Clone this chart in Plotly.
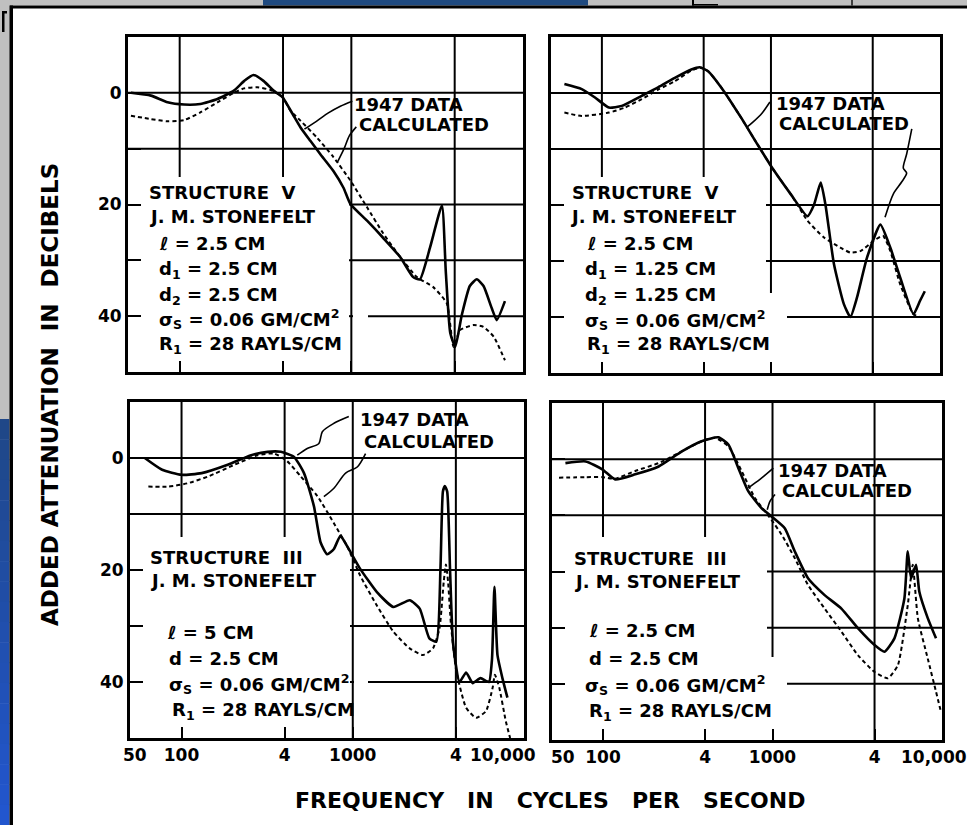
import math
import plotly.graph_objects as go

W, H = 967, 825
FONT = "DejaVu Sans"

# ---------------- axis ticks and grid ----------------
X_TICKS = [50, 100, 400, 1000, 4000, 10000]
X_TICK_LABELS = ["50", "100", "4", "1000", "4", "10,000"]
Y_TICKS = [0, 10, 20, 30, 40]
Y_TICK_LABELS = ["0", "", "20", "", "40"]
GRID_F = [100, 400, 1000, 4000]
GRID_DB = [0, 10, 20, 30, 40]
F_MIN, F_MAX = 50, 10000
DB_TOP, DB_BOTTOM = -10, 50

# ---------------- Structure V, d1 = d2 = 2.5 cm ----------------
V25_DATA_F = [52, 68, 85, 106, 132, 166, 207, 237, 269, 309, 352, 398, 455, 506, 577, 660, 786,
              900, 987, 1235, 1535, 1925, 2290, 2510, 2880, 3370, 3550, 3770, 4030, 4400, 4900,
              5380, 5890, 6580, 7030, 7850]
V25_DATA_DB = [0, 0.5, 1.7, 2.1, 2.0, 1.1, -0.4, -2.1, -3.2, -2.1, -0.4, 0.8, 3.8, 6.2, 8.6, 11, 14,
               17, 19.9, 22.9, 26, 29.4, 33, 33.4, 27.6, 20.2, 32, 43, 45.5, 39.8, 34.6,
               33.4, 34.6, 38.6, 40.7, 37.3]
V25_CALC_F = [52, 68, 85, 106, 132, 166, 207, 237, 283, 339, 398, 442, 506, 630, 786, 987, 1235,
              1535, 1925, 2410, 3000, 3600, 3940, 4300, 5130, 5880, 6760, 7850]
V25_CALC_DB = [4.1, 4.7, 5.1, 4.9, 3.5, 1.7, 0, -0.8, -1, -0.5, 0.8, 3.2, 5, 8, 11.5, 15.7, 20.5,
               25.2, 29.4, 33, 34.8, 37.7, 45.5, 42.5, 41.6, 41.9, 43.7, 47.9]

# ---------------- Structure V, d1 = d2 = 1.25 cm ----------------
V125_DATA_F = [60, 76, 91, 110, 131, 172, 215, 270, 338, 379, 425, 508, 666, 833, 1045, 1312, 1645,
               1800, 1970, 2100, 2360, 2700, 2950, 3230, 3700, 4440, 5080, 5820, 6970, 7620, 8130]
V125_DATA_DB = [-1.6, -0.7, 0.8, 2.6, 2.3, 0.5, -1, -2.7, -4.2, -4.6, -3.9, -1, 4.4, 9.2, 13.9, 18.1,
                22, 19.9, 16, 19.9, 30.6, 37.7, 40, 36.5, 29.4, 23.5, 27.6, 33, 39.5, 37.1, 35.4]
V125_CALC_F = [60, 76, 110, 137, 172, 215, 270, 338, 387, 425, 508, 666, 833, 1045, 1312, 1645,
               2060, 2570, 2950, 3400, 4050, 4600, 5080, 5820, 6970, 7620]
V125_CALC_DB = [3.5, 4.1, 3.5, 2.6, 1.1, -0.6, -2.1, -4, -4.5, -3.9, -1, 4.4, 9.2, 13.9, 18.1, 22.8,
                25.8, 27.6, 28.5, 28.2, 26.4, 25.5, 28.2, 34.2, 39.5, 40]

# ---------------- Structure III, l = 5 cm ----------------
III5_DATA_F = [61, 77, 100, 131, 186, 255, 318, 380, 454, 519, 593, 649, 709, 774, 847, 925, 1105,
               1380, 1725, 2150, 2460, 2800, 3080, 3250, 3360, 3450, 3560, 3700, 3850, 4200, 4590,
               5020, 5570, 6240, 6500, 6720, 7000, 7480, 8000]
III5_DATA_DB = [0, 2.1, 3, 2.7, 1.2, -0.5, -1.1, -1.1, -0.2, 2.7, 8.6, 15.1, 17.2, 16.3, 13.9, 15.7,
                19.8, 23.9, 26.6, 25.4, 26.9, 32.2, 32.8, 20, 6, 5, 6, 20, 33, 40, 38.3,
                40.2, 39.3, 40, 36, 23, 35.2, 39.3, 42.8]
III5_CALC_F = [64, 84, 109, 143, 204, 278, 348, 415, 497, 621, 774, 925, 1105, 1380, 1725, 2150,
               2570, 2940, 3210, 3400, 3500, 3600, 3750, 4020, 4590, 5250, 6000, 6560, 6760, 7170,
               7830, 8300]
III5_CALC_DB = [5.1, 5.1, 4.5, 3.3, 1.2, -0.5, -0.8, 0.6, 3.3, 6.8, 11.6, 15.7, 21, 26.3, 31, 34,
                35.2, 34, 30.4, 22, 19, 22, 30, 38, 44.6, 46.4, 45.2, 41, 38.7, 41, 47, 50]

# ---------------- Structure III, l = 2.5 cm ----------------
III25_DATA_F = [60, 79, 99, 118, 155, 213, 292, 382, 479, 549, 629, 719, 861, 986, 1181, 1352,
                1620, 2030, 2550, 3190, 4000, 4580, 5240, 6000, 6280, 6570, 7030, 7350, 8240, 9220]
III25_DATA_DB = [0.7, 0.4, 1.8, 3.6, 2.7, 1.3, -1.4, -3.2, -3.9, -2.6, 1.6, 5.7, 8.7, 10.2, 12.3,
                 16.4, 21.2, 24.2, 26.6, 30.1, 33.1, 34.3, 31.9, 24.8, 16.4, 21.2, 18.8, 23.6,
                 28.3, 31.9]
III25_CALC_F = [55, 79, 99, 118, 155, 213, 292, 382, 458, 549, 657, 787, 986, 1130, 1352, 1620,
                2030, 2550, 3190, 4000, 4790, 5490, 6280, 6720, 7200, 8240, 9220, 9860]
III25_CALC_DB = [3.3, 3.2, 3.2, 3.5, 2.1, 0.7, -1.4, -3.2, -3.8, -2.3, 2.1, 6.9, 10.8, 13.4, 17.6,
                 22.4, 26.6, 30.7, 34.9, 37.9, 39, 36.7, 26, 18.8, 28.3, 35.5, 41.4, 45]

# ---------------- leader lines from the curve labels ----------------
V25_LEAD_DATA = ([1014, 863, 735, 626, 533], [1.5, 2.4, 3.6, 5.1, 6.5])
V25_LEAD_CALC = ([1069, 973, 910, 830], [6.1, 7.7, 9.9, 12.4])
V125_LEAD_DATA = ([986, 885, 782, 721], [1.6, 3.6, 5.2, 6.1])
V125_LEAD_CALC = ([6810, 6350, 6065, 6350, 5930, 5300, 4730], [6.4, 10.9, 13.4, 14.3, 15.9, 18, 22.2])
III5_LEAD_DATA = ([948, 776, 664, 634, 542, 474], [-7.4, -6.2, -4.7, -2.6, -1.7, -0.5])
III5_LEAD_CALC = ([1188, 1062, 908, 776, 678], [-0.8, 1.6, 2.7, 5.4, 6.9])
III25_LEAD_DATA = ([1011, 843, 720], [1.6, 3.6, 5.1])
III25_LEAD_CALC = ([1035, 966, 931], [6.3, 7.5, 9])

# ---------------- parameter captions ----------------
V25_TEXT = ["STRUCTURE\u00a0\u00a0V", "J. M. STONEFELT", "\u2113 = 2.5 CM", "d<sub>1</sub> = 2.5 CM",
            "d<sub>2</sub> = 2.5 CM", "\u03c3<sub>S</sub> = 0.06 GM/CM<sup>2</sup>",
            "R<sub>1</sub> = 28 RAYLS/CM"]
V125_TEXT = ["STRUCTURE\u00a0\u00a0V", "J. M. STONEFELT", "\u2113 = 2.5 CM", "d<sub>1</sub> = 1.25 CM",
             "d<sub>2</sub> = 1.25 CM", "\u03c3<sub>S</sub> = 0.06 GM/CM<sup>2</sup>",
             "R<sub>1</sub> = 28 RAYLS/CM"]
III5_TEXT = ["STRUCTURE\u00a0\u00a0III", "J. M. STONEFELT", "\u2113 = 5 CM", "d = 2.5 CM",
             "\u03c3<sub>S</sub> = 0.06 GM/CM<sup>2</sup>", "R<sub>1</sub> = 28 RAYLS/CM"]
III25_TEXT = ["STRUCTURE\u00a0\u00a0III", "J. M. STONEFELT", "\u2113 = 2.5 CM", "d = 2.5 CM",
              "\u03c3<sub>S</sub> = 0.06 GM/CM<sup>2</sup>", "R<sub>1</sub> = 28 RAYLS/CM"]


def px(x):
    return x / W


def py(y):
    return 1 - y / H


# panel layout in pixels: left, right, top, bottom; "gaps" are the areas
# behind the caption block where the grid is left out; "edge_labels" are the
# centres of the end-of-axis frequency labels, which are lettered inside the frame
panels = [
    dict(box=(128, 523, 37, 372), data=(V25_DATA_F, V25_DATA_DB), calc=(V25_CALC_F, V25_CALC_DB),
         leads=[V25_LEAD_DATA, V25_LEAD_CALC], text=V25_TEXT,
         text_pos=[(147, 193), (147, 216), (157, 243), (157, 270), (157, 296), (157, 319), (157, 345)],
         label_pos=[(352, 104), (357, 125)], xlabels=False, ylabels=True,
         gaps=[(0, 349, 177, 380), (353, 368, 300, 330)], edge_labels=None),
    dict(box=(551, 940, 37, 373), data=(V125_DATA_F, V125_DATA_DB), calc=(V125_CALC_F, V125_CALC_DB),
         leads=[V125_LEAD_DATA, V125_LEAD_CALC], text=V125_TEXT,
         text_pos=[(570, 193), (568, 216), (585, 243), (583, 270), (583, 296), (583, 320), (585, 345)],
         label_pos=[(774, 103), (777, 124)], xlabels=False, ylabels=False,
         gaps=[(540, 766, 177, 380), (540, 787, 293, 380)], edge_labels=None),
    dict(box=(130, 524, 402, 738), data=(III5_DATA_F, III5_DATA_DB), calc=(III5_CALC_F, III5_CALC_DB),
         leads=[III5_LEAD_DATA, III5_LEAD_CALC], text=III5_TEXT,
         text_pos=[(148, 557), (148, 580), (165, 632), (167, 658), (167, 684), (170, 711)],
         label_pos=[(358, 420), (362, 441)], xlabels=True, ylabels=True,
         gaps=[(120, 350, 537, 745), (354, 368, 670, 695)], edge_labels=(135, 503)),
    dict(box=(552, 942, 403, 740), data=(III25_DATA_F, III25_DATA_DB), calc=(III25_CALC_F, III25_CALC_DB),
         leads=[III25_LEAD_DATA, III25_LEAD_CALC], text=III25_TEXT,
         text_pos=[(572, 558), (572, 581), (587, 630), (587, 658), (583, 685), (587, 712)],
         label_pos=[(776, 470), (780, 491)], xlabels=True, ylabels=False,
         gaps=[(540, 767, 537, 745), (540, 787, 657, 745)], edge_labels=(563, 934)),
]


def subtract(intervals, cut):
    out = []
    c0, c1 = cut
    for a, b in intervals:
        if c1 <= a or c0 >= b:
            out.append((a, b))
            continue
        if c0 > a:
            out.append((a, c0))
        if c1 < b:
            out.append((c1, b))
    return out


def grid_paths(box, gaps):
    left, right, top, bottom = box
    lmin, lmax = math.log10(F_MIN), math.log10(F_MAX)

    def fx(f):
        return left + (math.log10(f) - lmin) / (lmax - lmin) * (right - left)

    def xf(X):
        return 10 ** (lmin + (X - left) / (right - left) * (lmax - lmin))

    def dy(d):
        return top + (d - DB_TOP) / (DB_BOTTOM - DB_TOP) * (bottom - top)

    def yd(Y):
        return DB_TOP + (Y - top) / (bottom - top) * (DB_BOTTOM - DB_TOP)

    gx, gy = [], []
    for f in GRID_F:
        X = fx(f)
        segs = [(top, bottom)]
        for gx0, gx1, gy0, gy1 in gaps:
            if gx0 <= X <= gx1:
                segs = subtract(segs, (gy0, gy1))
        for a, b in segs:
            gx += [f, f, None]
            gy += [yd(a), yd(b), None]
    for d in GRID_DB:
        Y = dy(d)
        segs = [(left, right)]
        for gx0, gx1, gy0, gy1 in gaps:
            if gy0 <= Y <= gy1:
                segs = subtract(segs, (gx0, gx1))
        for a, b in segs:
            gx += [xf(a), xf(b), None]
            gy += [d, d, None]
    return gx, gy


fig = go.Figure()
layout = dict(
    width=W, height=H, margin=dict(l=0, r=0, t=0, b=0, autoexpand=False),
    paper_bgcolor="white", plot_bgcolor="white", showlegend=False,
    font=dict(family=FONT, color="black", size=16, weight="bold"),
)
annotations = []
TICK_FONT = dict(family=FONT, size=17, color="black", weight="bold")

for i, p in enumerate(panels, start=1):
    suffix = "" if i == 1 else str(i)
    xa, ya = "x" + suffix, "y" + suffix
    left, right, top, bottom = p["box"]

    # the end labels (50 and 10,000) are lettered separately, inside the frame
    xt = [""] + X_TICK_LABELS[1:-1] + [""]

    layout["xaxis" + suffix] = dict(
        type="log", range=[math.log10(F_MIN), math.log10(F_MAX)], domain=[px(left), px(right)],
        anchor=ya, tickvals=X_TICKS, ticktext=xt, showticklabels=p["xlabels"],
        automargin=False, showgrid=False, zeroline=False,
        showline=True, linecolor="black", linewidth=3, mirror=True,
        ticks="inside", ticklen=11, tickwidth=2, tickcolor="black", tickfont=TICK_FONT,
    )
    layout["yaxis" + suffix] = dict(
        range=[DB_BOTTOM, DB_TOP], domain=[py(bottom), py(top)], anchor=xa,
        tickvals=Y_TICKS, ticktext=Y_TICK_LABELS, showticklabels=p["ylabels"],
        automargin=False, showgrid=False, zeroline=False,
        showline=True, linecolor="black", linewidth=3, mirror=True,
        ticks="inside", ticklen=13, tickwidth=2, tickcolor="black", tickfont=TICK_FONT,
    )

    if p["edge_labels"]:
        for txt, cx in zip([X_TICK_LABELS[0], X_TICK_LABELS[-1]], p["edge_labels"]):
            annotations.append(dict(
                text=txt, x=px(cx), y=py(bottom + 5), xref="paper", yref="paper",
                xanchor="center", yanchor="top", showarrow=False, font=TICK_FONT,
            ))

    gx, gy = grid_paths(p["box"], p["gaps"])
    fig.add_trace(go.Scatter(
        x=gx, y=gy, xaxis=xa, yaxis=ya, mode="lines",
        line=dict(color="black", width=2), hoverinfo="skip",
    ))
    fig.add_trace(go.Scatter(
        x=p["calc"][0], y=p["calc"][1], xaxis=xa, yaxis=ya, mode="lines",
        line=dict(color="black", width=2, dash="4px,3px", shape="spline", smoothing=0.5),
        hoverinfo="skip",
    ))
    fig.add_trace(go.Scatter(
        x=p["data"][0], y=p["data"][1], xaxis=xa, yaxis=ya, mode="lines",
        line=dict(color="black", width=2.6, shape="spline", smoothing=0.5),
        hoverinfo="skip",
    ))
    for lf, ld in p["leads"]:
        fig.add_trace(go.Scatter(
            x=lf, y=ld, xaxis=xa, yaxis=ya, mode="lines",
            line=dict(color="black", width=1.6, shape="spline", smoothing=0.8),
            hoverinfo="skip",
        ))

    for txt, (tx, ty) in zip(p["text"], p["text_pos"]):
        annotations.append(dict(
            text=txt, x=px(tx), y=py(ty), xref="paper", yref="paper",
            xanchor="left", yanchor="middle", showarrow=False,
            font=dict(family=FONT, size=18, color="black", weight="bold"),
        ))
    for txt, (tx, ty) in zip(["1947 DATA", "CALCULATED"], p["label_pos"]):
        annotations.append(dict(
            text=txt, x=px(tx), y=py(ty), xref="paper", yref="paper",
            xanchor="left", yanchor="middle", showarrow=False,
            font=dict(family=FONT, size=18, color="black", weight="bold"),
        ))

# axis titles shared by the four panels
annotations.append(dict(
    text="ADDED\u00a0ATTENUATION\u00a0\u00a0IN\u00a0\u00a0DECIBELS", x=px(50), y=py(395),
    xref="paper", yref="paper", showarrow=False, textangle=-90,
    xanchor="center", yanchor="middle",
    font=dict(family=FONT, size=23, color="black", weight="bold"),
))
annotations.append(dict(
    text="FREQUENCY\u00a0\u00a0\u00a0IN\u00a0\u00a0\u00a0CYCLES\u00a0\u00a0\u00a0PER\u00a0\u00a0\u00a0SECOND",
    x=px(550), y=py(800), xref="paper", yref="paper", showarrow=False,
    xanchor="center", yanchor="middle",
    font=dict(family=FONT, size=22, color="black", weight="bold"),
))


# surrounding slide frame
def prect(x0, y0, x1, y1, color):
    return dict(type="rect", xref="paper", yref="paper", layer="below",
                x0=px(x0), x1=px(x1), y0=py(y1), y1=py(y0),
                fillcolor=color, line=dict(width=0))


frame = [prect(0, 0, 10, 419, "#c0c0c0")]
bands = 20
top_rgb, bot_rgb = (31, 71, 136), (34, 86, 206)
for k in range(bands):
    t = k / (bands - 1)
    c = tuple(round(a + (b - a) * t) for a, b in zip(top_rgb, bot_rgb))
    y0 = 419 + (825 - 419) * k / bands
    y1 = 419 + (825 - 419) * (k + 1) / bands + 0.5
    frame.append(prect(0, y0, 9.5, y1, "rgb(%d,%d,%d)" % c))
frame += [
    prect(0, 0, 967, 5.5, "#c0c0c0"),
    prect(263, 0, 588, 5.5, "#1f4a80"),
    prect(692, 0, 694, 5.5, "black"),
    prect(692, 4, 718, 5.5, "black"),
    prect(851, 0, 853, 5.5, "#404040"),
    prect(10, 5.5, 967, 8.5, "black"),
    prect(9.5, 5.5, 13, 825, "black"),
    prect(2, 12, 4.5, 32, "black"),
    prect(2, 11, 7, 13.5, "black"),
]

layout["shapes"] = frame
layout["annotations"] = annotations
fig.update_layout(**layout)

fig.write_html("out.html")
